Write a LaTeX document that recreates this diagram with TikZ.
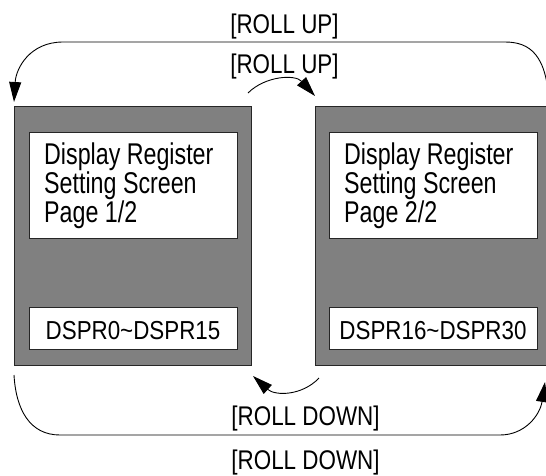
\documentclass[tikz,border=0pt]{standalone}
\usepackage{fontspec}
\setmainfont{Liberation Sans}
\newfontfamily\fdisp{Liberation Sans}[FakeStretch=0.775]
\newfontfamily\froll{Liberation Sans}[FakeStretch=0.83]
\newfontfamily\fdspr{Liberation Sans}[FakeStretch=0.86]
\usetikzlibrary{arrows.meta}
\definecolor{panelgray}{HTML}{808080}
\begin{document}
\begin{tikzpicture}[x=1pt,y=-1pt,
  panelbox/.style={draw=black!85,line width=1.2pt,fill=panelgray,minimum width=#1,minimum height=259pt,inner sep=0pt,anchor=north west},
  screenbox/.style={draw=black!85,line width=1.2pt,fill=white,minimum width=208pt,minimum height=106pt,inner sep=0pt,anchor=north west},
  rangebox/.style={draw=black!85,line width=1.2pt,fill=white,minimum width=208pt,minimum height=42pt,inner sep=0pt,anchor=north west},
  disptext/.style={font=\fdisp\fontsize{30}{26.5}\selectfont,align=left,inner sep=0pt,anchor=north west},
  dsprtext/.style={font=\fdspr\fontsize{26}{30}\selectfont,inner sep=0pt,anchor=base},
  rolltext/.style={font=\froll\fontsize{27}{30}\selectfont,inner sep=0pt,anchor=base},
  conn/.style={line width=0.9pt,-{Triangle[length=20pt,width=12pt]}}]
\useasboundingbox (0,0) rectangle (546,475);
% panels
\node[panelbox=237pt] (p1) at (14,106) {};
\node[panelbox=231pt] (p2) at (315,106) {};
\node[screenbox] (s1) at (29,132) {};
\node[screenbox] (s2) at (329,132) {};
\node[rangebox] (r1) at (29,307) {};
\node[rangebox] (r2) at (329,307) {};
% texts
\node[disptext] (t1) at (44,143) {Display Register\\Setting Screen\\Page 1/2};
\node[disptext] (t2) at (344,143) {Display Register\\Setting Screen\\Page 2/2};
\node[dsprtext] (d1) at (133,339) {DSPR0\char`\~DSPR15};
\node[dsprtext] (d2) at (433,339) {DSPR16\char`\~DSPR30};
\node[rolltext] (lu1) at (284.5,33) {[ROLL UP]};
\node[rolltext] (lu2) at (284.5,73) {[ROLL UP]};
\node[rolltext] (ld1) at (305.5,425) {[ROLL DOWN]};
\node[rolltext] (ld2) at (305.5,469) {[ROLL DOWN]};
% connector end points
\coordinate (ua) at (549,104);
\coordinate (ub) at (14,102);
\coordinate (sa) at (248,93);
\coordinate (sb) at (315,96);
\coordinate (da) at (319,378);
\coordinate (db) at (253,376);
\coordinate (la) at (14,375);
\coordinate (lb) at (545,382);
% connectors
\draw[conn] (ua) .. controls (547,55) and (530,42) .. (505,42) -- (63,42) .. controls (30,42) and (16,68) .. (ub);
\draw[conn] (sa) .. controls (265,76) and (295,74) .. (sb);
\draw[conn] (da) .. controls (302,396) and (275,396) .. (db);
\draw[conn] (la) .. controls (16,410) and (30,435) .. (60,435) -- (500,435) .. controls (525,435) and (540,415) .. (lb);
\end{tikzpicture}
\end{document}
